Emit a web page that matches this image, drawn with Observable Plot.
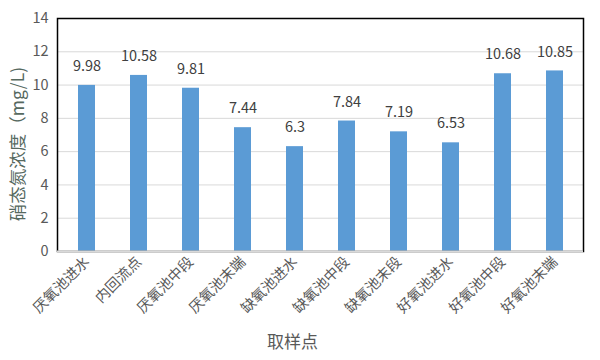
<!DOCTYPE html>
<html>
<head>
<meta charset="utf-8">
<script src="https://cdn.jsdelivr.net/npm/d3@7"></script>
<script src="https://cdn.jsdelivr.net/npm/@observablehq/plot@0.6"></script>
<style>
  html, body { margin: 0; padding: 0; background: #fff; }
  svg { font-family: "Noto Sans CJK SC", "Noto Sans", sans-serif; }
</style>
</head>
<body>
<div id="chart"></div>
<script>
const categories = ["厌氧池进水", "内回流点", "厌氧池中段", "厌氧池末端", "缺氧池进水", "缺氧池中段", "缺氧池末段", "好氧池进水", "好氧池中段", "好氧池末端"];
const values = [9.98, 10.58, 9.81, 7.44, 6.3, 7.84, 7.19, 6.53, 10.68, 10.85];
const valueLabels = ["9.98", "10.58", "9.81", "7.44", "6.3", "7.84", "7.19", "6.53", "10.68", "10.85"];
const yTicks = [0, 2, 4, 6, 8, 10, 12, 14];
const yLabel = "硝态氮浓度（mg/L)";
const xLabel = "取样点";

const data = categories.map((c, i) => ({cat: c, v: values[i], lab: valueLabels[i]}));

const chart = Plot.plot({
  width: 600,
  height: 360,
  marginLeft: 57,
  marginRight: 17,
  marginTop: 18,
  marginBottom: 109,
  style: {fontFamily: '"Noto Sans CJK SC", "Noto Sans", sans-serif', background: "#fff"},
  x: {domain: categories, paddingInner: 0.68, paddingOuter: 0.34, label: null},
  y: {domain: [0, 14], label: null},
  marks: [
    Plot.gridY(yTicks, {stroke: "#d9d9d9", strokeOpacity: 1}),
    Plot.barY(data, {x: "cat", y: "v", fill: "#5b9bd5"}),
    Plot.frame({stroke: "#000", strokeWidth: 1.5}),
    Plot.ruleY([0], {stroke: "#d9d9d9", strokeWidth: 1.8}),
    Plot.text(data, {x: "cat", y: "v", text: "lab", dy: -19, fontSize: 14.5, fill: "#404040"}),
    Plot.axisY(yTicks, {tickSize: 0, tickPadding: 9, fontSize: 14.5, color: "#595959", label: null}),
    Plot.axisX({tickSize: 0, tickPadding: 8, tickRotate: -45, fontSize: 14.5, color: "#595959", label: null}),
    Plot.text([yLabel], {frameAnchor: "left", textAnchor: "middle", lineAnchor: "middle", rotate: -90, dx: -39, dy: 9, fontSize: 17.5, fill: "#56695f"}),
    Plot.text([xLabel], {frameAnchor: "bottom", dy: 96, dx: -28, fontSize: 17, fill: "#595959"})
  ]
});
document.getElementById("chart").appendChild(chart);
</script>
</body>
</html>
